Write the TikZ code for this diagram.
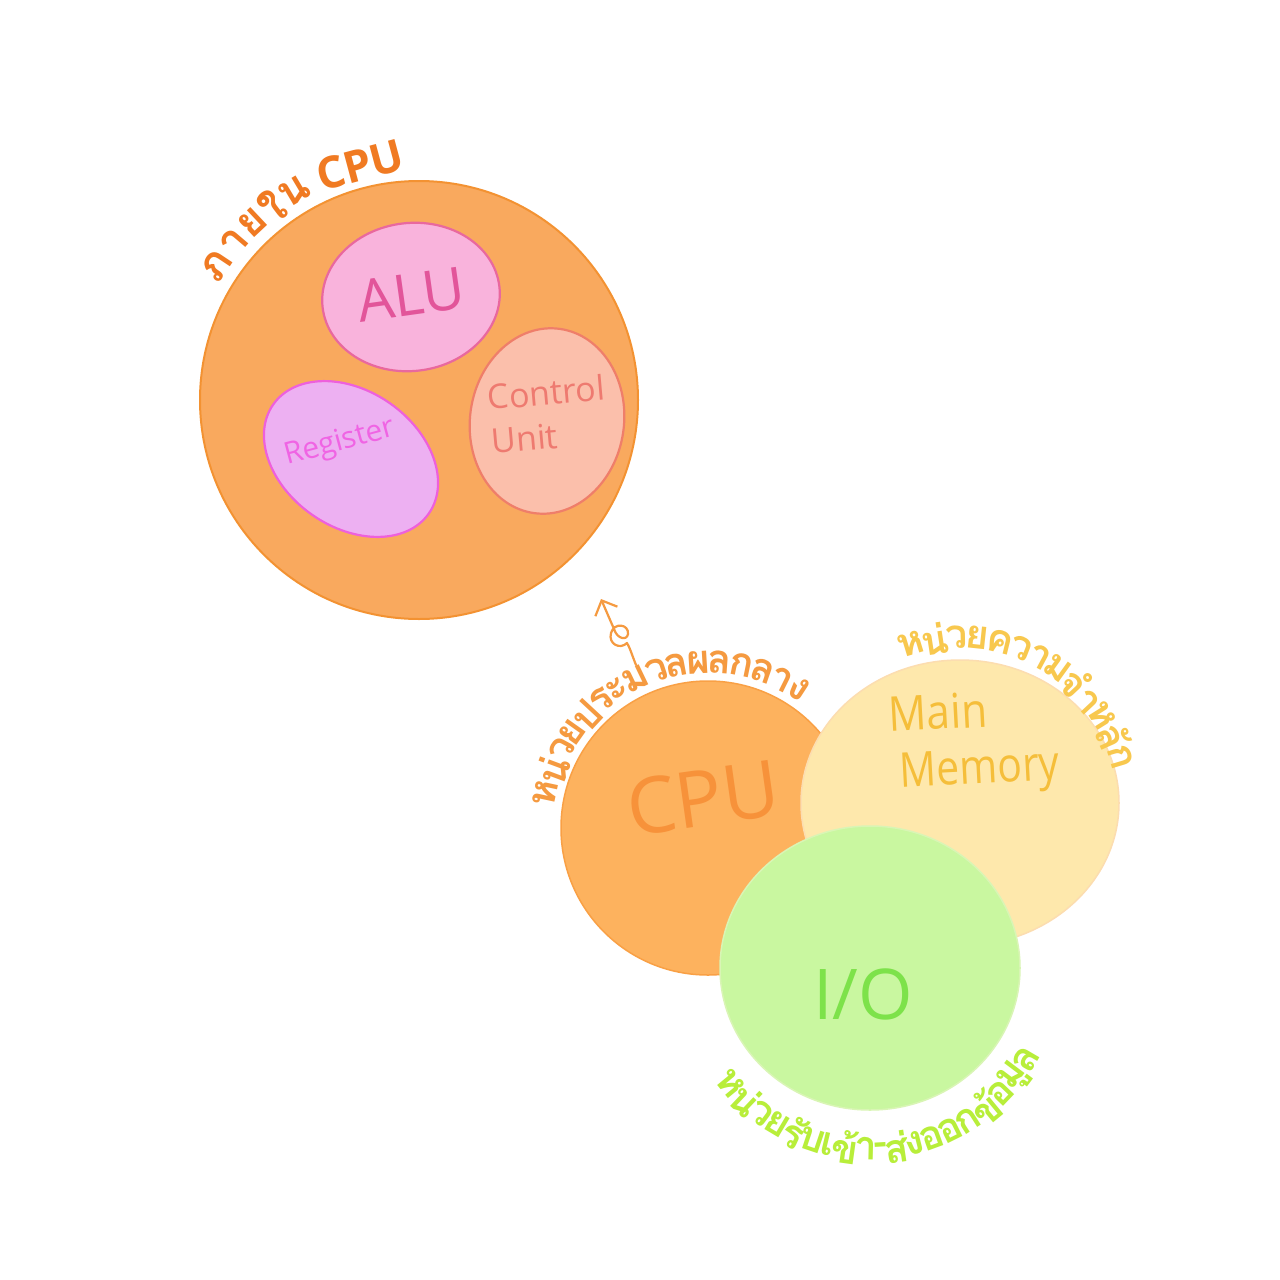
\documentclass[tikz,border=0pt]{standalone}
\usepackage{fontspec}
\setmainfont{Open Sans}
\newfontfamily\thai[Script=Thai]{Loma}
\usetikzlibrary{arrows.meta}
\definecolor{bigfill}{HTML}{F9A95E}
\definecolor{bigline}{HTML}{F39232}
\definecolor{alufill}{HTML}{F9B3DC}
\definecolor{aluline}{HTML}{E9689E}
\definecolor{alutext}{HTML}{E2559A}
\definecolor{regfill}{HTML}{EDB0F2}
\definecolor{regline}{HTML}{EE60DC}
\definecolor{regtext}{HTML}{F064E4}
\definecolor{cufill}{HTML}{FBBFAB}
\definecolor{culine}{HTML}{EF7E6A}
\definecolor{cutext}{HTML}{EE7A70}
\definecolor{cpufill}{HTML}{FDB25E}
\definecolor{cpuline}{HTML}{F9A045}
\definecolor{cputext}{HTML}{F7923A}
\definecolor{memfill}{HTML}{FEE8AC}
\definecolor{memline}{HTML}{FCDDB0}
\definecolor{memtext}{HTML}{F5BE3A}
\definecolor{iofill}{HTML}{C9F7A0}
\definecolor{ioline}{HTML}{D9F5B5}
\definecolor{iotext}{HTML}{7DE24A}
\definecolor{lblorange}{HTML}{F07A22}
\definecolor{lblcpu}{HTML}{F59A40}
\definecolor{lblmem}{HTML}{F8C84E}
\definecolor{lblio}{HTML}{B8EE3A}
\newlength\clw
% measure clusters outside the picture: #1 name, #2 font, #3 clusters
\newcommand{\measurelbl}[3]{%
  \gdef\mtot{0}%
  \foreach \ch [count=\i from 0] in {#3} {%
    \settowidth{\clw}{#2\ch}%
    \ifdim\clw<0.5pt \clw=20pt\fi
    \expandafter\xdef\csname mw#1x\i\endcsname{\the\clw}%
    \pgfmathsetmacro\mtmp{\mtot+\clw}\xdef\mtot{\mtmp}%
  }%
  \expandafter\xdef\csname mt#1\endcsname{\mtot}}
% #1 cx, #2 cy, #3 R, #4 start angle, #5 end angle, #6 +1 top / -1 bottom, #7 name, #8 font, #9 clusters
\newcommand{\arclbl}[9]{%
  \gdef\arcacc{0}%
  \foreach \ch [count=\i from 0] in {#9} {%
    \edef\cw{\csname mw#7x\i\endcsname}%
    \edef\ctot{\csname mt#7\endcsname}%
    \pgfmathsetmacro\frac{(\arcacc+0.5*\cw)/\ctot}%
    \pgfmathsetmacro\ang{#4+(#5-(#4))*\frac}%
    \pgfmathsetmacro\rot{#6>0 ? -(\ang+90) : 90-\ang}%
    \node[font={#8}, rotate=\rot, inner sep=0pt] (#7-\i) at ({#1+#3*cos(\ang)},{#2+#3*sin(\ang)}) {\ch};%
    \pgfmathsetmacro\arctmp{\arcacc+\cw}\xdef\arcacc{\arctmp}%
  }}
\newcommand{\fA}{\thai\bfseries\fontsize{44}{44}\selectfont}
\newcommand{\fB}{\thai\bfseries\fontsize{40}{40}\selectfont}
\tikzset{
  bigc/.style={fill=bigfill, draw=bigline, line width=2pt},
  aluc/.style={fill=alufill, draw=aluline, line width=2.2pt},
  regc/.style={fill=regfill, draw=regline, line width=2.2pt},
  cuc/.style={fill=cufill, draw=culine, line width=2.2pt},
  cpuc/.style={fill=cpufill, draw=cpuline, line width=1.5pt},
  memc/.style={fill=memfill, draw=memline, line width=1.5pt},
  ioc/.style={fill=iofill, draw=ioline, line width=1.5pt},
  arr/.style={draw=lblcpu, line width=2.2pt, line cap=round, line join=round, -{Straight Barb[length=12pt,width=24pt,line width=2.2pt]}}
}
\begin{document}
\measurelbl{t1}{\fA}{ภ,า,ย,ใ,น}%
\measurelbl{t2}{\fB}{ห,น่,ว,ย,ป,ร,ะ,ม,ว,ล,ผ,ล,ก,ล,า,ง}%
\measurelbl{t3}{\fB}{ห,น่,ว,ย,ค,ว,า,ม,จำ,ห,ลั,ก}%
\measurelbl{t4}{\fB}{ห,น่,ว,ย,รั,บ,เ,ข้,า,-,ส่,ง,อ,อ,ก,ข้,อ,มู,ล}%
\begin{tikzpicture}[x=1pt,y=-1pt]
\path[fill=white] (0,0) rectangle (1280,1280);
\useasboundingbox (0,0) rectangle (1280,1280);

% ---- inside CPU ----
\draw[bigc] (419,400) circle [radius=219];
\draw[aluc, rotate around={7:(411,297)}] (411,297) ellipse [x radius=89, y radius=74];
\draw[regc, rotate around={-35:(351,459)}] (351,459) ellipse [x radius=95, y radius=68];
\draw[cuc, rotate around={-8:(547,421)}] (547,421) ellipse [x radius=77, y radius=93];

\node[rotate=8, text=alutext, font=\fontsize{58}{60}\selectfont] (alu) at (411,295) {ALU};
\node[rotate=15, text=regtext, font=\fontsize{30}{32}\selectfont] (reg) at (340,443) {Register};
\node[rotate=5, text=cutext, font=\fontsize{34}{44}\selectfont, align=left] (cu) at (548,414) {Control\\Unit};

\begin{scope}[text=lblorange]
\arclbl{419}{400}{243}{-150}{-117}{1}{t1}{\fA}{ภ,า,ย,ใ,น}
\end{scope}
\node[rotate=15, text=lblorange, font=\bfseries\fontsize{44}{44}\selectfont] (incpu) at (360,165) {CPU};

% ---- three circles ----
\draw[cpuc] (708,828) circle [radius=147];
\draw[memc] (960,803) ellipse [x radius=159, y radius=143];
\draw[ioc] (870,968) ellipse [x radius=150, y radius=142];

\node[rotate=8, text=cputext, font=\fontsize{78}{80}\selectfont] (cpu) at (703,798) {CPU};
\node[rotate=3, xscale=0.88, text=memtext, font=\fontsize{48}{48}\selectfont] (mem1) at (938,712) {Main};
\node[rotate=3, xscale=0.85, text=memtext, font=\fontsize{48}{48}\selectfont] (mem2) at (980,772) {Memory};
\node[text=iotext, font=\fontsize{70}{72}\selectfont] (io) at (863,994) {I/O};

\begin{scope}[text=lblcpu]
\arclbl{708}{828}{166}{-172}{-54}{1}{t2}{\fB}{ห,น่,ว,ย,ป,ร,ะ,ม,ว,ล,ผ,ล,ก,ล,า,ง}
\end{scope}
\begin{scope}[text=lblmem]
\arclbl{960}{805}{168}{-111}{-13}{1}{t3}{\fB}{ห,น่,ว,ย,ค,ว,า,ม,จำ,ห,ลั,ก}
\end{scope}
\begin{scope}[text=lblio]
\arclbl{870}{968}{181}{144}{27}{-1}{t4}{\fB}{ห,น่,ว,ย,รั,บ,เ,ข้,า,-,ส่,ง,อ,อ,ก,ข้,อ,มู,ล}
\end{scope}

% ---- small arrow ----
\coordinate (astart) at (636,665);
\coordinate (atip) at (601,599);
\draw[arr] (astart) .. controls (632,655) and (630,648) .. (627,643)
  .. controls (620,650) and (608,644) .. (611,633)
  .. controls (614,622) and (629,624) .. (628,634)
  .. controls (627,641) and (617,639) .. (614,629) -- (atip);
\end{tikzpicture}
\end{document}
